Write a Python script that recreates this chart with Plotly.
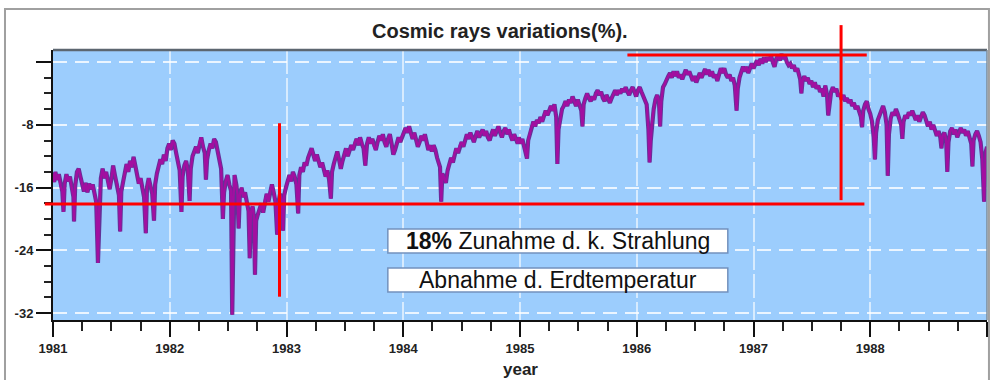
import plotly.graph_objects as go

# ---------------- data ----------------
years_1981 = [1981.00,1981.01,1981.02,1981.035,1981.05,1981.065,1981.08,1981.09,1981.10,1981.115,1981.13,1981.145,1981.16,1981.175,1981.18,1981.19,1981.205,1981.22,1981.235,1981.25,1981.265,1981.28,1981.295,1981.31,1981.325,1981.34,1981.355,1981.37,1981.385,1981.395,1981.41,1981.425,1981.44,1981.455,1981.47,1981.485,1981.50,1981.515,1981.53,1981.55,1981.565,1981.575,1981.585,1981.60,1981.615,1981.63,1981.645,1981.66,1981.675,1981.69,1981.705,1981.72,1981.735,1981.75,1981.765,1981.78,1981.795,1981.805,1981.82,1981.835,1981.85,1981.865,1981.875,1981.89,1981.905,1981.92,1981.935,1981.95,1981.965,1981.98,1981.995]
var_1981 = [-14.2,-15.3,-14.0,-15.0,-14.3,-15.8,-16.5,-19.1,-15.5,-14.3,-15.2,-14.6,-16.0,-17.2,-20.3,-15.8,-14.0,-13.6,-14.6,-15.6,-16.5,-15.4,-16.6,-15.5,-16.2,-15.6,-16.8,-17.8,-25.6,-19.0,-14.8,-13.6,-14.8,-14.0,-15.2,-16.2,-14.9,-13.2,-14.4,-15.6,-17.0,-21.6,-16.5,-15.3,-14.2,-13.0,-14.0,-12.6,-13.4,-12.1,-13.2,-14.6,-15.5,-14.8,-16.0,-17.2,-21.8,-16.0,-14.8,-15.8,-16.8,-20.2,-15.6,-14.2,-13.4,-12.4,-13.0,-11.8,-12.6,-11.0,-10.4]

years_1982 = [1982.01,1982.025,1982.04,1982.055,1982.07,1982.085,1982.10,1982.11,1982.125,1982.14,1982.155,1982.17,1982.18,1982.195,1982.21,1982.225,1982.24,1982.255,1982.27,1982.285,1982.30,1982.31,1982.32,1982.335,1982.35,1982.365,1982.38,1982.395,1982.41,1982.425,1982.44,1982.455,1982.465,1982.48,1982.495,1982.51,1982.525,1982.535,1982.545,1982.555,1982.57,1982.58,1982.59,1982.60,1982.615,1982.63,1982.645,1982.66,1982.675,1982.685,1982.695,1982.71,1982.72,1982.73,1982.74,1982.755,1982.77,1982.785,1982.80,1982.815,1982.83,1982.845,1982.86,1982.875,1982.89,1982.905,1982.92,1982.93,1982.945,1982.96,1982.97,1982.98,1982.995]
var_1982 = [-11.2,-10.0,-10.4,-11.6,-12.8,-13.8,-19.1,-14.6,-13.2,-12.6,-13.8,-17.7,-13.6,-12.0,-11.4,-10.8,-11.6,-10.2,-9.6,-10.8,-11.6,-15.0,-12.4,-11.2,-10.4,-11.0,-9.8,-10.2,-11.4,-12.2,-13.6,-20.0,-16.6,-15.2,-14.4,-15.6,-16.4,-32.2,-17.5,-14.4,-15.6,-16.8,-21.2,-17.0,-16.0,-17.2,-16.6,-18.2,-19.0,-25.0,-19.2,-18.4,-19.6,-27.1,-20.2,-19.4,-18.6,-18.0,-19.2,-17.6,-16.8,-17.8,-16.4,-15.6,-16.6,-17.8,-22.0,-18.0,-16.8,-17.6,-21.5,-17.0,-16.0]

years_1983 = [1983.01,1983.025,1983.04,1983.055,1983.07,1983.085,1983.10,1983.11,1983.125,1983.14,1983.155,1983.17,1983.185,1983.20,1983.215,1983.23,1983.245,1983.26,1983.275,1983.29,1983.305,1983.32,1983.335,1983.35,1983.365,1983.38,1983.39,1983.405,1983.42,1983.435,1983.45,1983.465,1983.48,1983.495,1983.51,1983.525,1983.54,1983.555,1983.57,1983.585,1983.60,1983.615,1983.63,1983.645,1983.66,1983.675,1983.69,1983.705,1983.72,1983.735,1983.75,1983.765,1983.78,1983.795,1983.81,1983.825,1983.84,1983.855,1983.87,1983.885,1983.90,1983.915,1983.93,1983.945,1983.96,1983.975,1983.99]
var_1983 = [-15.0,-14.4,-15.2,-14.0,-14.6,-15.6,-19.3,-14.4,-13.4,-14.0,-12.8,-13.2,-12.2,-11.6,-11.0,-11.8,-12.6,-11.8,-12.8,-13.4,-12.8,-13.8,-14.6,-13.8,-15.0,-17.4,-14.0,-13.0,-12.0,-11.4,-12.4,-13.6,-12.6,-11.6,-11.0,-12.0,-11.2,-10.6,-11.2,-10.2,-9.8,-10.6,-9.6,-10.4,-11.0,-13.2,-10.4,-9.6,-10.4,-9.8,-10.8,-11.2,-10.2,-9.4,-10.0,-9.2,-10.2,-10.8,-9.8,-9.2,-10.4,-11.8,-11.2,-10.2,-9.6,-10.2,-9.4]

years_1984 = [1984.005,1984.02,1984.035,1984.05,1984.065,1984.08,1984.095,1984.11,1984.125,1984.14,1984.155,1984.17,1984.185,1984.20,1984.215,1984.23,1984.245,1984.26,1984.275,1984.29,1984.30,1984.315,1984.325,1984.335,1984.35,1984.365,1984.38,1984.395,1984.41,1984.425,1984.44,1984.455,1984.47,1984.485,1984.50,1984.515,1984.53,1984.545,1984.56,1984.575,1984.59,1984.605,1984.62,1984.635,1984.65,1984.665,1984.68,1984.695,1984.71,1984.725,1984.74,1984.755,1984.77,1984.785,1984.80,1984.815,1984.83,1984.845,1984.86,1984.875,1984.89,1984.905,1984.92,1984.935,1984.95,1984.965,1984.98,1984.99]
var_1984 = [-9.0,-8.4,-9.0,-8.2,-9.2,-9.8,-9.0,-10.0,-10.8,-10.2,-9.4,-10.0,-9.2,-10.2,-11.2,-10.6,-11.4,-10.6,-11.2,-12.2,-12.8,-13.4,-17.8,-14.2,-14.8,-15.4,-13.8,-13.0,-12.2,-12.8,-11.6,-11.0,-11.6,-10.6,-10.2,-10.8,-9.8,-9.2,-9.8,-9.0,-9.6,-10.2,-9.4,-8.8,-9.6,-9.0,-8.6,-9.4,-8.8,-9.6,-10.0,-9.2,-8.6,-9.4,-8.8,-8.2,-9.0,-9.6,-8.8,-8.4,-9.2,-8.6,-9.4,-10.0,-9.2,-9.8,-10.4,-9.6]

years_1985 = [1985.005,1985.02,1985.035,1985.05,1985.06,1985.07,1985.085,1985.10,1985.115,1985.13,1985.145,1985.16,1985.175,1985.19,1985.205,1985.22,1985.235,1985.25,1985.265,1985.28,1985.295,1985.31,1985.32,1985.33,1985.345,1985.36,1985.375,1985.39,1985.405,1985.42,1985.435,1985.45,1985.465,1985.48,1985.495,1985.51,1985.525,1985.535,1985.545,1985.56,1985.575,1985.59,1985.605,1985.62,1985.635,1985.65,1985.665,1985.68,1985.695,1985.71,1985.725,1985.74,1985.755,1985.77,1985.785,1985.80,1985.815,1985.83,1985.845,1985.86,1985.875,1985.89,1985.905,1985.92,1985.935,1985.95,1985.965,1985.98,1985.995]
var_1985 = [-10.4,-9.8,-10.8,-11.4,-12.3,-10.0,-9.0,-8.2,-7.6,-8.2,-7.4,-7.8,-7.0,-7.6,-6.8,-6.2,-6.8,-6.2,-5.6,-6.2,-5.4,-7.0,-13.0,-8.6,-7.0,-6.0,-5.6,-5.0,-5.6,-4.8,-5.2,-4.4,-5.0,-5.6,-4.8,-5.6,-6.2,-8.2,-5.4,-4.6,-4.0,-4.6,-5.0,-4.4,-4.8,-4.0,-3.6,-4.2,-3.8,-4.6,-5.0,-4.2,-4.8,-5.2,-4.6,-4.0,-3.6,-4.2,-3.6,-4.0,-3.4,-3.8,-3.2,-3.8,-4.2,-3.6,-3.2,-3.8,-4.4]

years_1986 = [1986.01,1986.025,1986.04,1986.055,1986.07,1986.085,1986.10,1986.11,1986.12,1986.13,1986.145,1986.16,1986.175,1986.19,1986.20,1986.21,1986.225,1986.24,1986.255,1986.27,1986.285,1986.30,1986.315,1986.33,1986.345,1986.36,1986.375,1986.39,1986.405,1986.42,1986.435,1986.45,1986.465,1986.48,1986.495,1986.51,1986.525,1986.54,1986.555,1986.57,1986.585,1986.60,1986.615,1986.63,1986.645,1986.66,1986.675,1986.69,1986.705,1986.72,1986.735,1986.75,1986.765,1986.78,1986.795,1986.81,1986.825,1986.84,1986.855,1986.865,1986.88,1986.895,1986.91,1986.925,1986.94,1986.955,1986.97,1986.985]
var_1986 = [-3.6,-3.2,-3.8,-4.4,-4.8,-5.4,-8.6,-12.8,-10.0,-7.6,-6.0,-4.8,-4.2,-5.0,-8.2,-5.0,-3.2,-2.8,-2.2,-1.8,-1.4,-2.0,-1.2,-1.8,-1.2,-2.0,-1.6,-2.2,-1.6,-1.0,-1.6,-1.2,-1.8,-2.4,-1.8,-2.6,-2.0,-1.4,-2.0,-1.4,-0.9,-1.6,-1.0,-1.8,-1.2,-2.0,-1.6,-2.4,-1.4,-0.8,-1.4,-0.8,-1.6,-2.0,-1.6,-2.4,-2.0,-3.0,-6.2,-3.4,-2.0,-1.2,-0.6,-1.2,-0.6,-1.4,-0.8,-0.2]

years_1987 = [1987.00,1987.015,1987.03,1987.045,1987.06,1987.075,1987.09,1987.105,1987.12,1987.135,1987.15,1987.165,1987.18,1987.195,1987.21,1987.225,1987.24,1987.255,1987.27,1987.285,1987.30,1987.315,1987.33,1987.345,1987.36,1987.375,1987.39,1987.40,1987.41,1987.42,1987.435,1987.45,1987.465,1987.48,1987.495,1987.51,1987.525,1987.54,1987.555,1987.57,1987.585,1987.60,1987.615,1987.63,1987.64,1987.65,1987.665,1987.68,1987.695,1987.71,1987.725,1987.74,1987.755,1987.77,1987.785,1987.80,1987.815,1987.83,1987.845,1987.86,1987.875,1987.89,1987.905,1987.92,1987.93,1987.94,1987.955,1987.97,1987.985]
var_1987 = [-0.8,-0.2,0.2,-0.4,0.4,-0.2,0.6,0.0,0.6,0.2,0.8,0.0,-0.6,0.4,0.8,0.2,1.0,0.4,0.8,0.0,-0.4,-0.2,-0.8,-0.4,-1.2,-0.8,-1.6,-2.2,-4.0,-2.4,-1.8,-2.4,-2.0,-2.8,-2.4,-3.2,-2.6,-3.4,-3.0,-3.8,-3.4,-4.4,-3.0,-4.2,-6.8,-5.4,-3.8,-3.2,-3.8,-3.4,-4.4,-4.0,-4.8,-4.2,-5.0,-4.6,-5.2,-4.8,-5.6,-5.2,-6.0,-5.6,-6.4,-7.0,-8.3,-6.2,-5.4,-5.0,-6.0]

years_1988 = [1988.00,1988.015,1988.03,1988.04,1988.05,1988.065,1988.08,1988.095,1988.11,1988.125,1988.14,1988.15,1988.16,1988.175,1988.19,1988.205,1988.22,1988.235,1988.25,1988.265,1988.275,1988.285,1988.30,1988.315,1988.33,1988.345,1988.36,1988.375,1988.39,1988.405,1988.42,1988.435,1988.45,1988.465,1988.48,1988.495,1988.51,1988.525,1988.54,1988.555,1988.57,1988.585,1988.60,1988.61,1988.62,1988.635,1988.65,1988.66,1988.67,1988.685,1988.70,1988.715,1988.73,1988.745,1988.76,1988.775,1988.79,1988.805,1988.82,1988.835,1988.85,1988.865,1988.875,1988.885,1988.90,1988.915,1988.93,1988.945,1988.96,1988.975,1988.99,1989.00]
var_1988 = [-6.6,-7.6,-9.6,-12.4,-9.0,-7.4,-6.8,-6.0,-5.6,-6.4,-8.0,-14.5,-9.2,-7.2,-6.4,-6.8,-6.0,-6.6,-7.2,-8.0,-9.8,-7.6,-6.8,-7.2,-6.4,-6.8,-6.2,-6.8,-7.4,-6.8,-7.6,-7.0,-6.4,-6.8,-7.6,-8.2,-7.6,-8.6,-8.0,-8.8,-9.4,-8.8,-9.6,-11.0,-9.4,-9.0,-10.0,-14.0,-10.2,-8.8,-8.4,-9.2,-8.6,-9.6,-9.0,-8.4,-9.0,-8.6,-9.4,-8.8,-9.6,-10.4,-13.3,-10.0,-9.2,-8.8,-9.4,-10.2,-12.4,-17.8,-11.4,-10.8]

year_ticks = [1981, 1982, 1983, 1984, 1985, 1986, 1987, 1988, 1989]
year_labels = ["1981", "1982", "1983", "1984", "1985", "1986", "1987", "1988", ""]
var_ticks = [0, -8, -16, -24, -32]
var_labels = ["", "-8", "-16", "-24", "-32"]

TITLE = "Cosmic rays variations(%)."
X_TITLE = "year"
NOTE_1 = "<b>18%</b> Zunahme d. k. Strahlung"
NOTE_2 = "Abnahme d. Erdtemperatur"

# ---------------- layout constants ----------------
years = years_1981 + years_1982 + years_1983 + years_1984 + years_1985 + years_1986 + years_1987 + years_1988
variation = var_1981 + var_1982 + var_1983 + var_1984 + var_1985 + var_1986 + var_1987 + var_1988

X_RANGE = [1981, 1989]
Y_RANGE = [-32.87, 1.53]

def fx(x):
    return (x - X_RANGE[0]) / (X_RANGE[1] - X_RANGE[0])

def fy(y):
    return (y - Y_RANGE[0]) / (Y_RANGE[1] - Y_RANGE[0])

# red marker lines (data units): x0, y0, x1, y1
red_lines = [
    (1980.93, -18.1, 1987.95, -18.1),
    (1982.94, -7.8, 1982.94, -29.9),
    (1985.92, 0.9, 1987.97, 0.9),
    (1987.75, 4.7, 1987.75, -17.6),
]

# note boxes (data units): x0, x1, y_top, y_bottom
note_boxes = [
    (1983.868, 1986.78, -21.27, -24.33),
    (1983.868, 1986.78, -26.24, -29.30),
]

FONT = "Liberation Sans, Arial, sans-serif"

fig = go.Figure()
fig.add_trace(go.Scatter(x=years, y=variation, mode="lines",
                         line=dict(color="#633197", width=4.2), hoverinfo="skip",
                         showlegend=False))
fig.add_trace(go.Scatter(x=years, y=variation, mode="lines",
                         line=dict(color="#a20fa0", width=2.4),
                         showlegend=False))

shapes = []
# outer frame
shapes.append(dict(type="rect", xref="paper", yref="paper",
                   x0=-0.0514, x1=1.0021, y0=-0.40, y1=1.152,
                   line=dict(color="#a0a0a0", width=2), layer="below"))
# plot top / right border
shapes.append(dict(type="line", xref="paper", yref="paper", x0=0, x1=1, y0=1, y1=1,
                   line=dict(color="#5c6670", width=2.5)))
shapes.append(dict(type="line", xref="paper", yref="paper", x0=1, x1=1, y0=0, y1=1,
                   line=dict(color="#7d8b99", width=1.5)))
for (x0, y0, x1, y1) in red_lines:
    shapes.append(dict(type="line", xref="paper", yref="paper",
                       x0=fx(x0), x1=fx(x1), y0=fy(y0), y1=fy(y1),
                       line=dict(color="#ff0000", width=3)))
for (x0, x1, yt, yb) in note_boxes:
    shapes.append(dict(type="rect", xref="paper", yref="paper",
                       x0=fx(x0), x1=fx(x1), y0=fy(yb), y1=fy(yt),
                       fillcolor="white", line=dict(color="#7391bd", width=1.5)))

annotations = []
for text, (x0, x1, yt, yb) in zip([NOTE_1, NOTE_2], note_boxes):
    annotations.append(dict(text=text, xref="x", yref="y", x=(x0 + x1) / 2, y=(yt + yb) / 2,
                            xanchor="center", yanchor="middle", showarrow=False,
                            font=dict(family=FONT, size=23, color="#111111")))
annotations.append(dict(text="<b>" + TITLE + "</b>", xref="paper", yref="paper",
                        x=0.4786, y=1.070, xanchor="center", yanchor="middle",
                        showarrow=False, font=dict(family=FONT, size=20, color="#222222")))
annotations.append(dict(text="<b>" + X_TITLE + "</b>", xref="paper", yref="paper",
                        x=0.5, y=-0.185, xanchor="center", yanchor="middle",
                        showarrow=False, font=dict(family=FONT, size=17, color="#222222")))

fig.update_layout(
    width=990, height=380,
    margin=dict(l=53, r=3, t=50, b=60),
    paper_bgcolor="white",
    plot_bgcolor="#9ccdfd",
    shapes=shapes,
    annotations=annotations,
    xaxis=dict(range=X_RANGE, tickmode="array", tickvals=year_ticks,
               ticktext=["<b>" + t + "</b>" if t else "" for t in year_labels],
               ticks="outside", ticklen=15, tickwidth=2, tickcolor="#111111",
               tickfont=dict(family=FONT, size=13, color="#222222"),
               showline=True, linecolor="#111111", linewidth=2,
               showgrid=True, gridcolor="rgba(255,255,255,0.6)", gridwidth=1.5,
               griddash="24px,4px", zeroline=False,
               minor=dict(tick0=1981, dtick=0.25, ticks="outside", ticklen=9,
                          tickwidth=1.5, tickcolor="#222222", showgrid=False)),
    yaxis=dict(range=Y_RANGE, tickmode="array", tickvals=var_ticks,
               ticktext=["<b>" + t + "</b>" if t else "" for t in var_labels],
               ticks="outside", ticklen=15, tickwidth=2, tickcolor="#111111",
               tickfont=dict(family=FONT, size=13, color="#222222"),
               showline=True, linecolor="#111111", linewidth=2,
               showgrid=True, gridcolor="rgba(255,255,255,0.8)", gridwidth=1.5,
               griddash="14px,8px", zeroline=False,
               minor=dict(tick0=0, dtick=2, ticks="outside", ticklen=7,
                          tickwidth=1.5, tickcolor="#222222", showgrid=False)),
)

fig.write_html("out.html")
